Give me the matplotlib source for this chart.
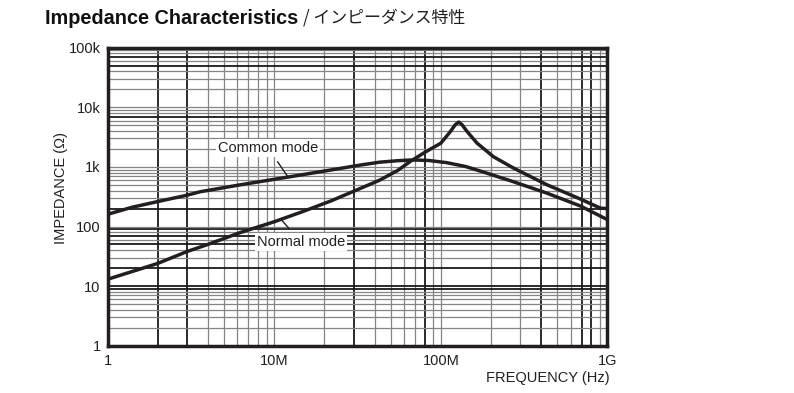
import matplotlib
matplotlib.use("Agg")
import matplotlib.pyplot as plt
from matplotlib.ticker import FixedLocator, NullFormatter

# frequency in MHz, impedance in ohm
common_f = [1, 1.4, 2, 3, 3.6, 6.25, 12.5, 22, 33, 43, 55, 68, 85, 108, 140, 173, 272, 434, 690, 1000]
common_z = [160, 210, 262, 335, 383, 500, 685, 890, 1076, 1200, 1270, 1310, 1280, 1180, 1020, 850, 565, 362, 220, 130]

normal_f = [1, 2, 3, 4, 6.25, 10, 15, 22, 33, 43, 55, 66, 80, 100, 114, 122, 128, 134, 144, 165, 207, 274, 434, 689, 908, 1000]
normal_z = [13, 24, 38, 50, 79, 120, 180, 270, 437, 600, 870, 1250, 1750, 2500, 3900, 5100, 5650, 5100, 3900, 2500, 1480, 950, 500, 288, 203, 200]

x_ticks = [1, 10, 100, 1000]
x_labels = ["1", "10M", "100M", "1G"]
y_ticks = [1, 10, 100, 1000, 10000, 100000]
y_labels = ["1", "10", "100", "1k", "10k", "100k"]

# grid lines that print darker in the original
dark_x = [2, 3, 30, 80, 400, 700, 800]
dark_y = [9, 10, 20, 50, 70, 90, 200, 7000, 50000, 70000]

plt.rcParams['font.family'] = ['Liberation Sans', 'DejaVu Sans']

fig = plt.figure(figsize=(7.94, 3.93), dpi=100)
ax = fig.add_axes([107.5 / 794, 1 - 345.7 / 393, 500 / 794, 298 / 393])
ax.set_xscale('log')
ax.set_yscale('log')
ax.set_xlim(1, 1000)
ax.set_ylim(1, 100000)

# log grid, every 1..9 of each decade
minor_x = [m * 10 ** d for d in range(3) for m in range(1, 10)][1:]
minor_y = [m * 10 ** d for d in range(5) for m in range(1, 10)][1:]
for v in minor_x:
    dark = any(abs(v - d) < 1e-9 for d in dark_x)
    ax.axvline(v, color='#1a1a1a' if dark else '#858585', lw=1.3 if dark else 0.9, zorder=1)
for v in minor_y:
    dark = any(abs(v - d) < 1e-9 for d in dark_y)
    ax.axhline(v, color='#1a1a1a' if dark else '#858585', lw=1.3 if dark else 0.9, zorder=1)

ax.plot(common_f, common_z, color='#231f20', lw=2.5, solid_capstyle='butt', zorder=3)
ax.plot(normal_f, normal_z, color='#231f20', lw=2.5, solid_capstyle='butt', zorder=3)

ax.xaxis.set_major_locator(FixedLocator(x_ticks))
ax.xaxis.set_minor_locator(FixedLocator([]))
ax.xaxis.set_minor_formatter(NullFormatter())
ax.set_xticklabels(x_labels)
ax.yaxis.set_major_locator(FixedLocator(y_ticks))
ax.yaxis.set_minor_locator(FixedLocator([]))
ax.yaxis.set_minor_formatter(NullFormatter())
ax.set_yticklabels(y_labels)
ax.tick_params(axis='both', length=0, labelsize=10.5, colors='#231f20')
ax.tick_params(axis='x', pad=6)
ax.tick_params(axis='y', pad=5)
for s in ax.spines.values():
    s.set_linewidth(2.5)
    s.set_color('#231f20')
    s.set_zorder(4)

ax.set_ylabel("IMPEDANCE (Ω)", fontsize=10.5, color='#231f20')
ax.yaxis.set_label_coords(-0.08, 0.53)
fig.text(610 / 794, 1 - 378 / 393, "FREQUENCY (Hz)", ha='right', va='center',
         fontsize=10.5, color='#231f20')

box = dict(boxstyle='square,pad=0.15', fc='white', ec='none')
ax.annotate("Common mode", xy=(12, 703), xytext=(9.2, 2075), ha='center', va='center',
            fontsize=10.5, color='#231f20', bbox=box, zorder=5,
            arrowprops=dict(arrowstyle='-', color='#231f20', lw=1, shrinkA=4, shrinkB=0))
ax.annotate("Normal mode", xy=(10.9, 135), xytext=(14.5, 55), ha='center', va='center',
            fontsize=10.5, color='#231f20', bbox=box, zorder=5,
            arrowprops=dict(arrowstyle='-', color='#231f20', lw=1, shrinkA=4, shrinkB=0))

fig.text(45 / 794, 1 - 18 / 393, "Impedance Characteristics", ha='left', va='center',
         fontsize=14.3, fontweight='bold', family=['Liberation Sans', 'DejaVu Sans'],
         color='#111111')
fig.text(303 / 794, 1 - 18 / 393, "/ インピーダンス特性", ha='left', va='center',
         fontsize=12.2, family=['Noto Sans CJK JP', 'DejaVu Sans'], color='#231f20')

fig.savefig("out.png", dpi=100)
